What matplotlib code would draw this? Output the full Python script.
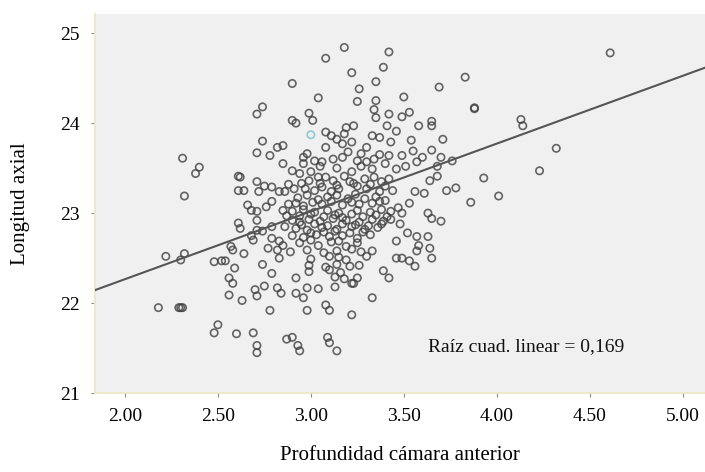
import numpy as np
import matplotlib
matplotlib.use("Agg")
import matplotlib.pyplot as plt

plt.rcParams['font.family'] = ['Liberation Serif', 'DejaVu Serif']

# profundidad de cámara anterior (mm) y longitud axial (mm)
prof = [
    3.18, 3.42, 3.08, 3.39, 3.22, 3.35, 2.90, 3.26, 3.04, 3.25, 3.35, 4.61, 3.83, 3.69, 3.50,
    3.88, 3.88, 2.74, 2.71, 2.99, 3.01, 3.34, 3.35, 3.42, 2.90, 2.92, 3.53, 3.49, 4.13, 4.14,
    3.58, 3.65, 3.65, 3.08, 3.11, 3.14, 3.19, 3.23, 3.18, 3.22, 3.17, 3.08, 3.30, 3.33, 3.37,
    3.41, 3.43, 3.46, 2.74, 2.82, 2.85, 2.71, 2.78, 2.85, 3.54, 3.71, 4.32, 3.37, 3.42, 2.98,
    2.96, 3.02, 3.06, 3.12, 3.17, 3.25, 3.27, 3.30, 3.33, 3.46, 3.49, 3.55, 3.60, 3.65, 3.70,
    3.76, 3.51, 3.57, 3.68, 2.31, 2.38, 2.40, 2.32, 2.61, 2.62, 2.71, 2.75, 2.79, 2.64, 2.61,
    2.72, 2.83, 2.86, 2.90, 2.94, 3.00, 3.04, 2.99, 3.08, 3.12, 3.18, 3.21, 3.25, 3.29, 3.34,
    3.38, 3.42, 2.91, 2.97, 3.02, 3.06, 3.11, 3.15, 3.30, 3.37, 3.44, 3.68, 3.64, 3.56, 3.61,
    3.73, 3.78, 3.93, 4.01, 4.23, 3.86,
    2.92, 2.96, 3.01, 3.06, 3.11, 3.17, 3.22, 3.26, 3.33, 3.37, 3.53, 2.66, 2.76, 2.79,
    2.90, 2.96, 3.02, 3.09, 3.15, 3.25, 3.32, 3.38, 3.43, 2.68, 2.71, 2.85, 3.49, 3.63,
    2.90, 2.94, 2.99, 3.05, 3.12, 3.19, 3.26, 3.33, 3.39, 3.43, 2.87, 2.71, 2.61, 3.65, 3.70,
    2.92, 2.98, 3.06, 3.14, 3.22, 3.29, 3.36, 2.62, 2.71, 2.74, 2.79, 3.52,
    2.90, 2.96, 3.03, 3.10, 3.17, 3.25, 3.32, 2.68, 3.57, 3.63,
    2.69, 2.79, 2.83, 2.94, 3.00, 3.11, 3.15, 3.25, 3.46,
    2.57, 2.58, 2.64, 2.77, 2.82, 2.89, 2.98, 3.07, 3.14, 3.22, 3.27, 3.33, 3.58, 3.64, 3.57,
    2.32, 2.22, 2.30,
    2.83, 3.00, 3.15, 3.19, 3.46, 3.65, 3.49, 3.53, 2.48, 2.52, 2.54, 2.74, 3.56,
    2.59, 2.99, 3.08, 3.14, 3.21, 3.26, 2.79, 2.99, 3.10, 3.16, 3.39,
    2.56, 2.92, 3.13, 3.18, 3.25, 3.42, 2.58, 3.22, 3.23,
    2.70, 2.75, 2.82, 2.84, 2.98, 3.04, 3.13, 2.92,
    2.71, 2.56, 2.63, 2.96, 3.33, 3.08,
    2.78, 2.98, 3.10, 3.22, 2.18, 2.29, 2.30, 2.31,
    2.50, 2.48, 2.60, 2.69, 2.71, 2.71, 2.87, 2.90, 2.93, 2.94, 3.09, 3.10, 3.14,
    # zona densa central
    2.93, 2.98, 3.04, 3.09, 3.14, 3.20, 3.24, 3.29, 3.35, 3.40,
    2.94, 3.00, 3.07, 3.13, 3.17, 3.22, 3.28, 3.35, 3.41,
    2.95, 3.02, 3.09, 3.17, 3.24, 3.31, 3.38,
    3.00, 3.07, 3.13, 3.21, 3.28,
    2.88, 2.95, 3.05, 3.14, 3.23, 3.32, 3.40,
    2.88, 3.47, 3.48, 2.86, 2.85, 3.04, 3.19, 3.10, 3.30,
    3.05, 3.14, 3.22, 2.96, 3.20, 3.27, 3.34, 3.40,
]
longitud = [
    24.84, 24.79, 24.72, 24.62, 24.56, 24.46, 24.44, 24.38, 24.28, 24.24, 24.25, 24.78, 24.51, 24.40, 24.29,
    24.16, 24.17, 24.18, 24.10, 24.11, 24.03, 24.15, 24.06, 24.10, 24.03, 24.00, 24.12, 24.07, 24.04, 23.97,
    23.97, 23.97, 24.02, 23.90, 23.86, 23.82, 23.95, 23.97, 23.88, 23.79, 23.77, 23.73, 23.73, 23.86, 23.84,
    23.97, 23.79, 23.91, 23.80, 23.73, 23.75, 23.67, 23.64, 23.55, 23.81, 23.82, 23.72, 23.65, 23.64, 23.66,
    23.55, 23.58, 23.57, 23.60, 23.62, 23.58, 23.52, 23.57, 23.49, 23.49, 23.64, 23.69, 23.62, 23.70, 23.62,
    23.58, 23.52, 23.57, 23.52, 23.61, 23.44, 23.51, 23.19, 23.41, 23.40, 23.35, 23.30, 23.29, 23.25, 23.25,
    23.24, 23.24, 23.24, 23.47, 23.44, 23.46, 23.40, 23.36, 23.40, 23.36, 23.41, 23.35, 23.30, 23.38, 23.40,
    23.35, 23.38, 23.27, 23.27, 23.25, 23.29, 23.24, 23.27, 23.27, 23.24, 23.25, 23.41, 23.36, 23.24, 23.22,
    23.25, 23.28, 23.39, 23.19, 23.47, 23.12,
    23.11, 23.08, 23.12, 23.10, 23.13, 23.09, 23.12, 23.10, 23.11, 23.13, 23.11, 23.09, 23.07, 23.13,
    23.02, 23.04, 23.01, 23.03, 23.00, 23.03, 23.01, 23.04, 23.02, 23.03, 23.02, 23.03, 23.00, 23.00,
    22.92, 22.90, 22.93, 22.91, 22.94, 22.92, 22.90, 22.93, 22.91, 22.93, 22.97, 22.92, 22.89, 22.94, 22.91,
    22.83, 22.81, 22.84, 22.82, 22.85, 22.82, 22.84, 22.83, 22.81, 22.80, 22.85, 22.78,
    22.75, 22.73, 22.76, 22.74, 22.75, 22.72, 22.76, 22.75, 22.74, 22.74,
    22.70, 22.72, 22.69, 22.67, 22.70, 22.68, 22.69, 22.67, 22.69,
    22.63, 22.59, 22.55, 22.61, 22.59, 22.57, 22.59, 22.56, 22.58, 22.60, 22.57, 22.58, 22.64, 22.61, 22.58,
    22.55, 22.52, 22.48,
    22.50, 22.49, 22.51, 22.48, 22.50, 22.50, 22.50, 22.47, 22.46, 22.47, 22.47, 22.43, 22.41,
    22.39, 22.42, 22.40, 22.43, 22.41, 22.42, 22.33, 22.35, 22.37, 22.34, 22.36,
    22.28, 22.28, 22.29, 22.27, 22.28, 22.28, 22.22, 22.22, 22.22,
    22.15, 22.19, 22.17, 22.11, 22.17, 22.16, 22.18, 22.11,
    22.08, 22.09, 22.03, 22.06, 22.06, 21.98,
    21.92, 21.92, 21.92, 21.87, 21.95, 21.95, 21.95, 21.95,
    21.76, 21.67, 21.66, 21.67, 21.53, 21.45, 21.60, 21.62, 21.53, 21.47, 21.62, 21.56, 21.47,
    # zona densa central
    23.17, 23.20, 23.15, 23.18, 23.20, 23.16, 23.21, 23.16, 23.18, 23.14,
    22.97, 22.99, 22.96, 22.98, 22.95, 22.99, 22.96, 22.98, 22.96,
    22.87, 22.88, 22.86, 22.88, 22.87, 22.86, 22.88,
    22.78, 22.79, 22.80, 22.78, 22.79,
    23.32, 23.33, 23.33, 23.31, 23.33, 23.32, 23.30,
    23.10, 23.06, 22.88, 22.85, 22.64, 22.64, 22.63, 22.52, 22.52,
    23.52, 23.50, 23.46, 23.62, 23.68, 23.66, 23.60, 23.55,
]
# un punto resaltado en cian
prof_cian = [3.00]
longitud_cian = [23.87]

# recta de regresión
intercepto = 20.76
pendiente = 0.753
r2_texto = "Raíz cuad. linear = 0,169"

x_ticks = [2.0, 2.5, 3.0, 3.5, 4.0, 4.5, 5.0]
y_ticks = [21, 22, 23, 24, 25]

fig = plt.figure(figsize=(7.05, 4.72), dpi=100)
ax = fig.add_axes([0.135, 0.167, 0.865, 0.803])
ax.set_facecolor("#f0f0f0")

ax.scatter(prof, longitud, s=28, facecolors="none", edgecolors="#404040",
           linewidths=1.2, alpha=0.8, zorder=3)
ax.scatter(prof_cian, longitud_cian, s=28, facecolors="none", edgecolors="#8ccad2",
           linewidths=1.2, zorder=3)

ax.set_xlim(1.84, 5.12)
ax.set_ylim(21.0, 25.21)
xx = np.array(ax.get_xlim())
ax.plot(xx, intercepto + pendiente * xx, color="#555555", lw=1.5, zorder=4)

ax.text(3.63, 21.52, r2_texto, fontsize=14, va="center", ha="left", color="#111111")

ax.set_xticks(x_ticks)
ax.set_xticklabels([f"{v:.2f}" for v in x_ticks])
ax.set_yticks(y_ticks)
ax.tick_params(axis="both", labelsize=14, length=3, color="#888888", pad=8)

for s in ["top", "right"]:
    ax.spines[s].set_visible(False)
for s in ["left", "bottom"]:
    ax.spines[s].set_color("#ece8c8")
    ax.spines[s].set_linewidth(1.5)

ax.set_xlabel("Profundidad cámara anterior", fontsize=15, labelpad=15)
ax.set_ylabel("Longitud axial", fontsize=15, labelpad=22)

fig.savefig("out.png", dpi=100)
